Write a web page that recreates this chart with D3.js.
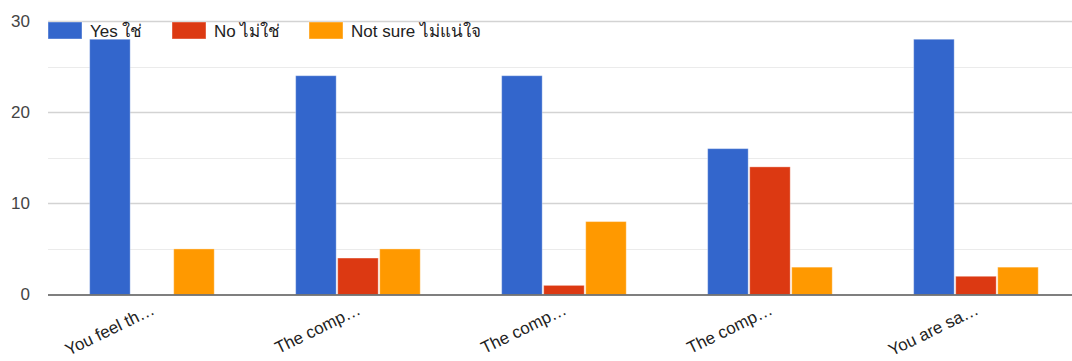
<!DOCTYPE html>
<html>
<head>
<meta charset="utf-8">
<script src="https://cdn.jsdelivr.net/npm/d3@7"></script>
<style>
  body { margin: 0; background: #fff; }
  svg { display: block; font-family: Arial, "Liberation Sans", "Noto Sans", sans-serif; }
</style>
</head>
<body>
<svg id="chart"></svg>
<script>
const categories = ['You feel th…', 'The comp…', 'The comp…', 'The comp…', 'You are sa…'];
const seriesNames = ['Yes ใช่', 'No ไม่ใช่', 'Not sure ไม่แน่ใจ'];
const yesValues = [28, 24, 24, 16, 28];
const noValues = [0, 4, 1, 14, 2];
const notSureValues = [5, 5, 8, 3, 3];
const yTicks = [0, 10, 20, 30];
const yMinorTicks = [5, 15, 25];
const colors = ['#3366cc', '#dc3912', '#ff9900'];

const width = 1072;
const height = 361;
const seriesValues = [yesValues, noValues, notSureValues];

const svg = d3.select('#chart')
  .attr('width', width)
  .attr('height', height);

const x = d3.scaleBand()
  .domain(d3.range(categories.length))
  .range([49.7, 1079.7])
  .paddingInner(0.388)
  .paddingOuter(0.194);

const xInner = d3.scaleBand()
  .domain(d3.range(seriesNames.length))
  .range([0, x.bandwidth()]);

const y = d3.scaleLinear()
  .domain([0, 30])
  .range([294.5, 21]);

const gridLeft = 48;

// minor gridlines
svg.append('g')
  .selectAll('line')
  .data(yMinorTicks)
  .join('line')
  .attr('x1', gridLeft)
  .attr('x2', width)
  .attr('y1', d => Math.round(y(d)) + 0.5)
  .attr('y2', d => Math.round(y(d)) + 0.5)
  .attr('stroke', '#ebebeb')
  .attr('stroke-width', 1);

// major gridlines
svg.append('g')
  .selectAll('line')
  .data(yTicks.filter(d => d !== 0))
  .join('line')
  .attr('x1', gridLeft)
  .attr('x2', width)
  .attr('y1', d => Math.round(y(d)) + 0.5)
  .attr('y2', d => Math.round(y(d)) + 0.5)
  .attr('stroke', '#d3d3d3')
  .attr('stroke-width', 1.3);

// y tick labels
svg.append('g')
  .selectAll('text')
  .data(yTicks)
  .join('text')
  .attr('x', 30)
  .attr('y', d => y(d))
  .attr('dy', '0.35em')
  .attr('text-anchor', 'end')
  .attr('font-size', 17)
  .attr('fill', '#444')
  .text(d => d);

// bars
const groups = svg.append('g')
  .selectAll('g')
  .data(categories.map((c, i) => i))
  .join('g')
  .attr('transform', i => `translate(${x(i)},0)`);

groups.selectAll('rect')
  .data(i => seriesValues.map((vals, s) => ({ s, v: vals[i] })))
  .join('rect')
  .attr('x', d => xInner(d.s))
  .attr('y', d => y(d.v))
  .attr('width', xInner.bandwidth() - 1.5)
  .attr('height', d => y(0) - y(d.v))
  .attr('fill', d => colors[d.s])
  .attr('stroke', '#fff')
  .attr('stroke-opacity', 0.35)
  .attr('stroke-width', 1);

// baseline
svg.append('line')
  .attr('x1', gridLeft)
  .attr('x2', width)
  .attr('y1', y(0) + 0.5)
  .attr('y2', y(0) + 0.5)
  .attr('stroke', '#555')
  .attr('stroke-width', 1.6);

// x labels
svg.append('g')
  .selectAll('text')
  .data(categories)
  .join('text')
  .attr('transform', (d, i) => `translate(${x(i) + x.bandwidth() / 2 + 3},${y(0) + 19}) rotate(-26)`)
  .attr('text-anchor', 'end')
  .attr('font-size', 17)
  .attr('fill', '#222')
  .text(d => d);

// legend
const legendX = [48, 172, 309];
const legend = svg.append('g')
  .selectAll('g')
  .data(seriesNames)
  .join('g')
  .attr('transform', (d, i) => `translate(${legendX[i]},22)`);

legend.append('rect')
  .attr('width', 34)
  .attr('height', 17)
  .attr('fill', (d, i) => colors[i])
  .attr('stroke', '#fff')
  .attr('stroke-opacity', 0.4);

legend.append('text')
  .attr('x', 42)
  .attr('y', 15)
  .attr('font-size', 17)
  .attr('fill', '#222')
  .text(d => d);
</script>
</body>
</html>
